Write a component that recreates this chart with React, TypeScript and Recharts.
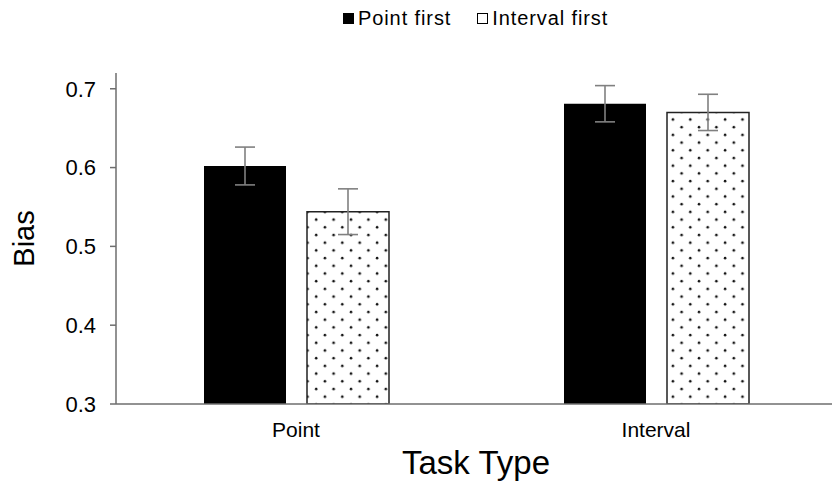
import React from "react";
import { BarChart, Bar, XAxis, YAxis, ErrorBar, Legend } from "recharts";

const categories = ["Point", "Interval"];
const pointFirst = [0.602, 0.681];
const pointFirstErr = [0.024, 0.023];
const intervalFirst = [0.544, 0.67];
const intervalFirstErr = [0.029, 0.023];
const yTicks = [0.3, 0.4, 0.5, 0.6, 0.7];

const data = categories.map((task, i) => ({
  task,
  pointFirst: pointFirst[i],
  pointFirstErr: pointFirstErr[i],
  intervalFirst: intervalFirst[i],
  intervalFirstErr: intervalFirstErr[i],
}));

const FONT = "'Liberation Sans', Arial, sans-serif";

const LegendBox: React.FC = () => (
  <div
    style={{
      display: "flex",
      alignItems: "center",
      fontFamily: FONT,
      fontSize: 20,
      letterSpacing: 0.9,
      color: "#000",
      lineHeight: "22px",
    }}
  >
    <span style={{ width: 11, height: 11, background: "#000", marginRight: 4 }} />
    <span style={{ marginRight: 26 }}>Point first</span>
    <span
      style={{
        width: 9,
        height: 9,
        border: "1px solid #000",
        background: "#fff",
        marginRight: 4,
      }}
    />
    <span>Interval first</span>
  </div>
);

export default function App() {
  return (
    <div style={{ position: "absolute", left: 0, top: 0, background: "#fff" }}>
      <BarChart
        width={832}
        height={486}
        data={data}
        margin={{ top: 51, right: -4, bottom: 0, left: 0 }}
        barSize={82}
        barGap={21}
      >
        <defs>
          <pattern id="dots" patternUnits="userSpaceOnUse" width={17.4} height={15.4}>
            <rect width={17.4} height={15.4} fill="#fff" />
            <circle cx={3} cy={4} r={1.3} fill="#111" />
            <circle cx={11.7} cy={11.7} r={1.3} fill="#111" />
          </pattern>
        </defs>
        <Legend
          verticalAlign="top"
          height={22}
          content={() => <LegendBox />}
          wrapperStyle={{ top: 7, left: 343, width: "auto" }}
        />
        <XAxis
          dataKey="task"
          height={82}
          tickLine={false}
          tickSize={0}
          tickMargin={18}
          axisLine={{ stroke: "#6e6e6e", strokeWidth: 1.5 }}
          tick={{ fill: "#000", fontSize: 21, fontFamily: FONT }}
          label={{
            value: "Task Type",
            position: "insideBottom",
            offset: 12,
            fill: "#000",
            fontSize: 33,
            fontFamily: FONT,
          }}
        />
        <YAxis
          width={116}
          domain={[0.3, 0.72]}
          ticks={yTicks}
          allowDataOverflow
          tickFormatter={(v: number) => v.toFixed(1)}
          tickSize={6}
          tickMargin={14}
          tickLine={{ stroke: "#6e6e6e", strokeWidth: 1.5 }}
          axisLine={{ stroke: "#6e6e6e", strokeWidth: 1.5 }}
          tick={{ fill: "#000", fontSize: 22, fontFamily: FONT }}
          label={{
            value: "Bias",
            angle: -90,
            position: "insideLeft",
            offset: 24,
            fill: "#000",
            fontSize: 29,
            fontFamily: FONT,
            style: { textAnchor: "middle" },
          }}
        />
        <Bar dataKey="pointFirst" fill="#000" isAnimationActive={false}>
          <ErrorBar dataKey="pointFirstErr" width={10} stroke="#808080" strokeWidth={1.6} />
        </Bar>
        <Bar
          dataKey="intervalFirst"
          fill="url(#dots)"
          stroke="#222"
          strokeWidth={1.5}
          isAnimationActive={false}
        >
          <ErrorBar dataKey="intervalFirstErr" width={10} stroke="#808080" strokeWidth={1.6} />
        </Bar>
      </BarChart>
    </div>
  );
}
